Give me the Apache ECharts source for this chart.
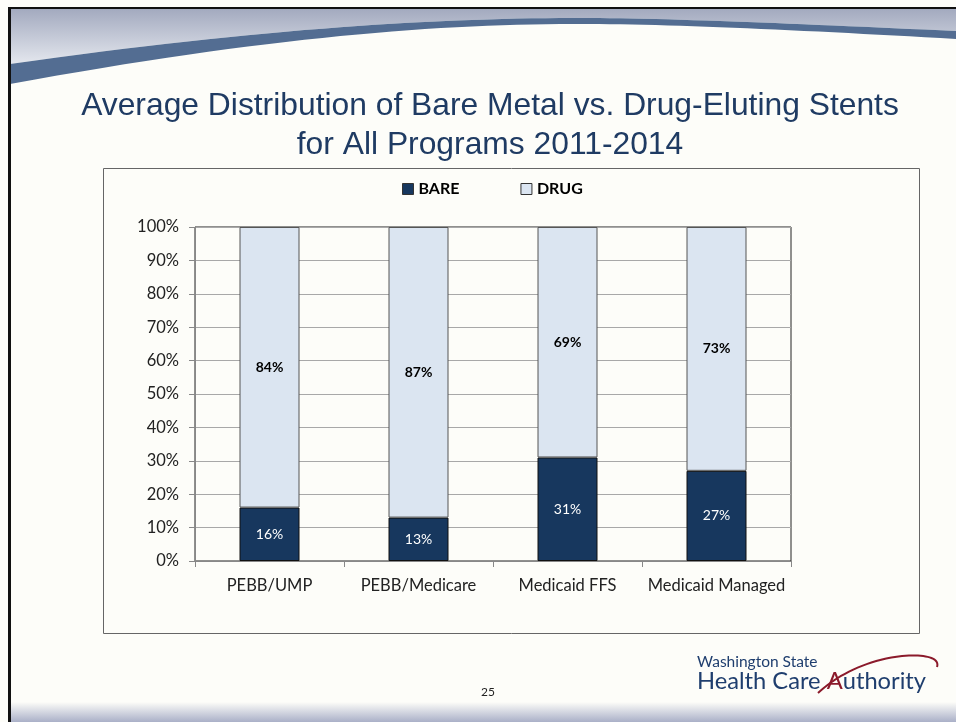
<!DOCTYPE html>
<html>
<head>
<meta charset="utf-8">
<script src="https://cdn.jsdelivr.net/npm/echarts@6/dist/echarts.min.js"></script>
<style>
html,body{margin:0;padding:0;background:#fdfdf9;}
#c{width:956px;height:722px;}
</style>
</head>
<body>
<div id="c"></div>
<script>
const categories = ['PEBB/UMP', 'PEBB/Medicare', 'Medicaid FFS', 'Medicaid Managed'];
const bareValues = [16, 13, 31, 27];
const drugValues = [84, 87, 69, 73];
const yTicks = { min: 0, max: 100, interval: 10 };
const titleLines = ['Average Distribution of Bare Metal vs. Drug-Eluting Stents', 'for All Programs 2011-2014'];
const pageNumber = '25';

const FONT = 'Lato, "Open Sans", sans-serif';

// sample a chain of cubic bezier segments into polygon points (decoration only)
function bez(p0, segs, n) {
  const pts = [p0];
  let cur = p0;
  segs.forEach(s => {
    const [c1, c2, e] = s;
    for (let i = 1; i <= n; i++) {
      const t = i / n, u = 1 - t;
      pts.push([
        u*u*u*cur[0] + 3*u*u*t*c1[0] + 3*u*t*t*c2[0] + t*t*t*e[0],
        u*u*u*cur[1] + 3*u*u*t*c1[1] + 3*u*t*t*c2[1] + t*t*t*e[1]
      ]);
    }
    cur = e;
  });
  return pts;
}
const swTop = bez([10, 64], [[[250, 30], [420, 19], [560, 18]], [[650, 17], [800, 24], [956, 31]]], 30);
const swBot = bez([10, 84], [[[250, 40], [420, 25], [560, 24]], [[650, 23], [800, 30], [956, 39]]], 30);
const bandPts = [[10, 9], [956, 9]].concat(swTop.slice().reverse());
const swooshPts = swTop.concat(swBot.slice().reverse());
const logoArc = bez([818, 693], [[[836, 676], [866, 660], [902, 656]], [[926, 654], [940, 658], [937, 667]]], 20);

const chart = echarts.init(document.getElementById('c'));

chart.setOption({
  backgroundColor: '#fdfdf9',
  animation: false,
  title: {
    text: titleLines.join('\n'),
    left: 485, top: 82, textAlign: 'center',
    textStyle: { fontFamily: '"Liberation Sans", Arial, sans-serif', fontSize: 31.8, fontWeight: 'normal', color: '#1f3b63', lineHeight: 39 }
  },
  legend: {
    top: 176, left: 397,
    itemWidth: 11, itemHeight: 11, itemGap: 61,
    icon: 'rect',
    textStyle: { fontFamily: FONT, fontSize: 16, fontWeight: 'bold', color: '#000' },
    data: [
      { name: 'BARE', itemStyle: { color: '#17375e', borderColor: '#333', borderWidth: 1 } },
      { name: 'DRUG', itemStyle: { color: '#dbe5f1', borderColor: '#333', borderWidth: 1 } }
    ]
  },
  grid: { left: 195, right: 165, top: 227, bottom: 161, show: true, borderColor: '#222', borderWidth: 1, backgroundColor: 'transparent' },
  xAxis: {
    type: 'category', data: categories,
    axisLine: { lineStyle: { color: '#888', width: 1 } },
    axisTick: { show: true, length: 6, lineStyle: { color: '#888' } },
    axisLabel: { interval: 0, fontFamily: FONT, fontSize: 16.5, color: '#222', margin: 16 }
  },
  yAxis: {
    type: 'value', min: yTicks.min, max: yTicks.max, interval: yTicks.interval,
    axisLine: { show: true, lineStyle: { color: '#888', width: 1 } },
    axisTick: { show: true, length: 6, lineStyle: { color: '#888' } },
    splitLine: { lineStyle: { color: '#a8a8a8', width: 1 } },
    axisLabel: { fontFamily: FONT, fontSize: 16.5, color: '#222', margin: 16, formatter: '{value}%' }
  },
  series: [
    {
      name: 'BARE', type: 'bar', stack: 'a', data: bareValues, barWidth: 60,
      itemStyle: { color: '#17375e', borderColor: '#111', borderWidth: 1 },
      label: { show: true, position: 'inside', formatter: '{c}%', fontFamily: FONT, fontSize: 14, color: '#fff' }
    },
    {
      name: 'DRUG', type: 'bar', stack: 'a', data: drugValues, barWidth: 60,
      itemStyle: { color: '#dbe5f1', borderColor: '#555', borderWidth: 1 },
      label: { show: true, position: 'inside', formatter: '{c}%', fontFamily: FONT, fontSize: 14, fontWeight: 'bold', color: '#000' }
    }
  ],
  graphic: [
    { type: 'polygon', z: -20, silent: true, shape: { points: bandPts },
      style: { fill: new echarts.graphic.LinearGradient(0, 0, 0, 1, [{ offset: 0, color: '#a3aabf' }, { offset: 1, color: '#e4e7ee' }]) } },
    { type: 'polygon', z: -19, silent: true, shape: { points: swooshPts }, style: { fill: '#536d92' } },
    { type: 'rect', z: -18, silent: true, shape: { x: 8, y: 7, width: 948, height: 2 }, style: { fill: '#111' } },
    { type: 'rect', z: -18, silent: true, shape: { x: 8, y: 7, width: 3, height: 715 }, style: { fill: '#111' } },
    { type: 'rect', z: -20, silent: true, shape: { x: 11, y: 702, width: 945, height: 20 },
      style: { fill: new echarts.graphic.LinearGradient(0, 0, 0, 1, [{ offset: 0, color: '#fdfdf9' }, { offset: 1, color: '#aab0c8' }]) } },
    { type: 'rect', z: -15, silent: true, shape: { x: 103.5, y: 168.5, width: 816, height: 465 },
      style: { fill: '#fdfdf9', stroke: '#666', lineWidth: 1 } },
    { type: 'text', z: 5, silent: true, left: 481, top: 686,
      style: { text: pageNumber, fontFamily: FONT, fontSize: 12, fill: '#222' } },
    { type: 'text', z: 5, silent: true, left: 697, top: 654,
      style: { text: 'Washington State', fontFamily: FONT, fontSize: 15.5, fill: '#1f3e6e' } },
    { type: 'text', z: 5, silent: true, left: 697, top: 669,
      style: { text: '{a|Health Care }{b|A}{a|uthority}', rich: {
        a: { fontFamily: FONT, fontSize: 23.7, fill: '#1f3e6e', color: '#1f3e6e' },
        b: { fontFamily: FONT, fontSize: 23.7, fill: '#8b1a2b', color: '#8b1a2b' } } } },
    { type: 'polyline', z: 5, silent: true, shape: { points: logoArc },
      style: { fill: null, stroke: '#8b1a2b', lineWidth: 2 } }
  ]
});
</script>
</body>
</html>
